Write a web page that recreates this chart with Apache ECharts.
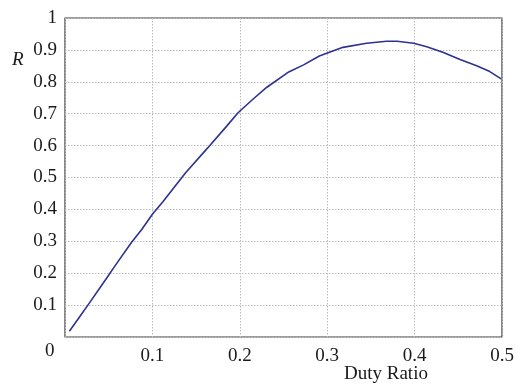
<!DOCTYPE html>
<html>
<head>
<meta charset="utf-8">
<script src="https://cdn.jsdelivr.net/npm/echarts@6/dist/echarts.min.js"></script>
<style>html,body{margin:0;padding:0;background:#fff;}#c{width:520px;height:387px;}</style>
</head>
<body>
<div id="c"></div>
<script>
var dutyRatio = [0.005,0.017,0.027,0.044,0.059,0.076,0.088,0.100,0.112,0.138,0.163,0.185,0.198,0.214,0.231,0.256,0.273,0.291,0.318,0.345,0.368,0.380,0.399,0.414,0.433,0.452,0.471,0.486,0.499];
var rValues  = [0.018,0.064,0.103,0.170,0.230,0.296,0.338,0.385,0.424,0.515,0.592,0.661,0.703,0.743,0.783,0.831,0.853,0.881,0.908,0.921,0.927,0.927,0.921,0.910,0.892,0.870,0.850,0.832,0.809];
var xTicks = [0.1,0.2,0.3,0.4,0.5];
var yTicks = [0.1,0.2,0.3,0.4,0.5,0.6,0.7,0.8,0.9,1];
var xTitle = 'Duty Ratio';
var yTitle = 'R';

var font = 'Liberation Serif';
var chart = echarts.init(document.getElementById('c'));
chart.setOption({
  animation: false,
  grid: {left: 65, right: 18, top: 18, bottom: 50, show: true, borderColor: '#3a3a3a', borderWidth: 1.2,
         containLabel: false, outerBoundsMode: 'none'},
  xAxis: {
    type: 'value', min: 0, max: 0.5, interval: 0.1,
    axisLine: {show: false}, axisTick: {show: false},
    splitLine: {show: true, lineStyle: {type: [1.5,1.5], color: '#bcbcbc', width: 1}},
    axisLabel: {margin: 10, fontFamily: font, fontSize: 19, color: '#1a1a1a',
      formatter: function(v){ var s = xTicks.find(function(t){return Math.abs(t-v)<1e-9;}); return s===undefined?'':String(s); }}
  },
  yAxis: {
    type: 'value', min: 0, max: 1, interval: 0.1,
    axisLine: {show: false}, axisTick: {show: false},
    splitLine: {show: true, lineStyle: {type: [1.5,1.5], color: '#bcbcbc', width: 1}},
    axisLabel: {margin: 8, fontFamily: font, fontSize: 19, color: '#1a1a1a',
      formatter: function(v){ var s = yTicks.find(function(t){return Math.abs(t-v)<1e-9;}); return s===undefined?'':String(s); }}
  },
  graphic: [
    {type: 'text', left: 45, top: 342, style: {text: '0', font: '19px "Liberation Serif"', fill: '#1a1a1a'}},
    {type: 'text', left: 12, top: 50, style: {text: yTitle, font: 'italic 19px "Liberation Serif"', fill: '#1a1a1a'}},
    {type: 'text', left: 344, top: 365, style: {text: xTitle, font: '19px "Liberation Serif"', fill: '#1a1a1a'}}
  ],
  series: [{
    type: 'line', showSymbol: false, smooth: false,
    data: dutyRatio.map(function(x,i){return [x, rValues[i]];}),
    lineStyle: {color: '#2e3192', width: 1.6}
  }]
});
</script>
</body>
</html>
